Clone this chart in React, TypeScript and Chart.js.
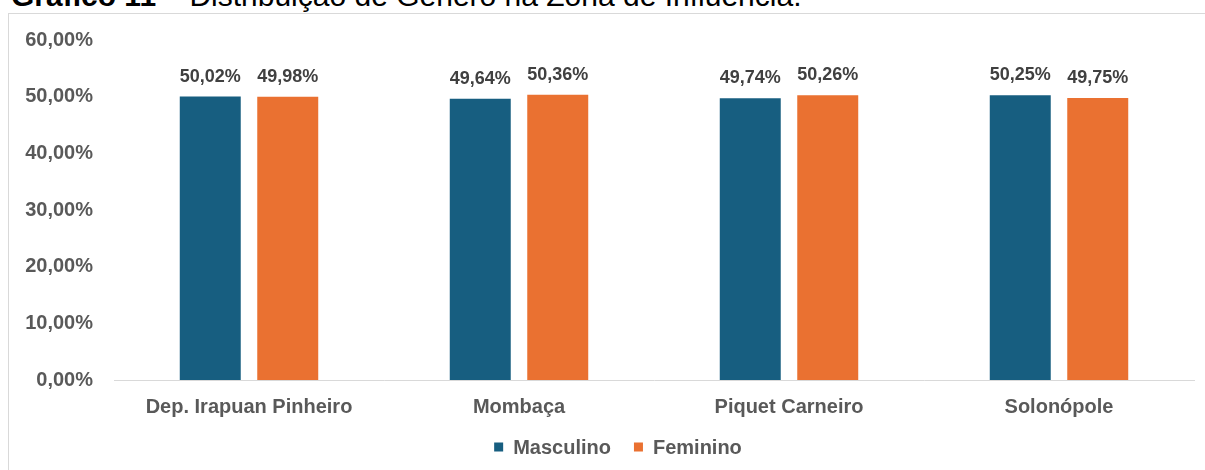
import React, { useEffect, useRef } from "react";
import { Chart, registerables } from "chart.js";

Chart.register(...registerables);

const categories = ["Dep. Irapuan Pinheiro", "Mombaça", "Piquet Carneiro", "Solonópole"];
const masculino = [50.02, 49.64, 49.74, 50.25];
const feminino = [49.98, 50.36, 50.26, 49.75];
const seriesNames = ["Masculino", "Feminino"];
const yTicks = [0, 10, 20, 30, 40, 50, 60];

const BLUE = "#175E80";
const ORANGE = "#EA7131";
const FONT = "'Liberation Sans', Arial, sans-serif";

const fmt = (v: number) => v.toFixed(2).replace(".", ",") + "%";

const dataLabelPlugin = {
  id: "dataLabels",
  afterDatasetsDraw(chart: any) {
    const ctx = chart.ctx;
    ctx.save();
    ctx.font = `bold 18px ${FONT}`;
    ctx.fillStyle = "#404040";
    ctx.textAlign = "center";
    ctx.textBaseline = "bottom";
    chart.data.datasets.forEach((ds: any, i: number) => {
      const meta = chart.getDatasetMeta(i);
      meta.data.forEach((bar: any, j: number) => {
        ctx.fillText(fmt(ds.data[j]), bar.x, bar.y - 11);
      });
    });
    ctx.restore();
  },
};

const legendPlugin = {
  id: "customLegend",
  afterDraw(chart: any) {
    const ctx = chart.ctx;
    ctx.save();
    ctx.font = `bold 20px ${FONT}`;
    ctx.textBaseline = "middle";
    ctx.textAlign = "left";
    const box = 9;
    const gapBoxText = 10;
    const gapItems = 23;
    const items = chart.data.datasets.map((ds: any) => ({
      label: ds.label,
      color: ds.backgroundColor,
      w: box + gapBoxText + ctx.measureText(ds.label).width,
    }));
    const total = items.reduce((s: number, it: any) => s + it.w, 0) + gapItems * (items.length - 1);
    const cx = 609;
    const cy = 441;
    let x = cx - total / 2;
    items.forEach((it: any) => {
      ctx.fillStyle = it.color;
      ctx.fillRect(x, cy - box / 2 - 1, box, box);
      ctx.fillStyle = "#595959";
      ctx.fillText(it.label, x + box + gapBoxText, cy);
      x += it.w + gapItems;
    });
    ctx.restore();
  },
};

export default function App() {
  const ref = useRef<HTMLCanvasElement | null>(null);

  useEffect(() => {
    if (!ref.current) return;
    const chart = new Chart(ref.current, {
      type: "bar",
      data: {
        labels: categories,
        datasets: [
          {
            label: seriesNames[0],
            data: masculino,
            backgroundColor: BLUE,
            categoryPercentage: 0.574,
            barPercentage: 0.787,
          },
          {
            label: seriesNames[1],
            data: feminino,
            backgroundColor: ORANGE,
            categoryPercentage: 0.574,
            barPercentage: 0.787,
          },
        ],
      },
      options: {
        responsive: false,
        animation: false,
        layout: { padding: { top: 18, right: 11, bottom: 36, left: 0 } },
        plugins: {
          legend: { display: false },
          tooltip: { enabled: false },
          title: { display: false },
        },
        scales: {
          x: {
            grid: { display: false, drawTicks: false },
            border: { display: true, color: "#D9D9D9", width: 1 },
            ticks: {
              color: "#595959",
              font: { family: FONT, size: 20, weight: "bold" },
              padding: 15,
            },
          },
          y: {
            min: 0,
            max: 60,
            afterFit(scale: any) {
              scale.width = 105;
            },
            afterBuildTicks(scale: any) {
              scale.ticks = yTicks.map((v) => ({ value: v }));
            },
            grid: { display: false, drawTicks: false },
            border: { display: false },
            ticks: {
              color: "#595959",
              font: { family: FONT, size: 20, weight: "bold" },
              padding: 21,
              callback: (v: any) => fmt(Number(v)),
            },
          },
        },
      },
      plugins: [dataLabelPlugin, legendPlugin],
    });
    return () => chart.destroy();
  }, []);

  return (
    <>
      <style>{`body{margin:0;overflow:hidden;background:#fff}`}</style>
      <div
        style={{
          position: "absolute",
          left: 11,
          top: -19,
          fontFamily: FONT,
          fontSize: 30,
          lineHeight: "30px",
          color: "#000",
          whiteSpace: "nowrap",
        }}
      >
        <b>Gráfico 11</b> – Distribuição de Gênero na Zona de Influência.
      </div>
      <div
        style={{
          position: "absolute",
          left: 8,
          top: 13,
          width: 1240,
          height: 500,
          border: "1px solid #D9D9D9",
          boxSizing: "border-box",
        }}
      />
      <canvas
        ref={ref}
        width={1196}
        height={463}
        style={{ position: "absolute", left: 9, top: 7, width: 1196, height: 463 }}
      />
    </>
  );
}
